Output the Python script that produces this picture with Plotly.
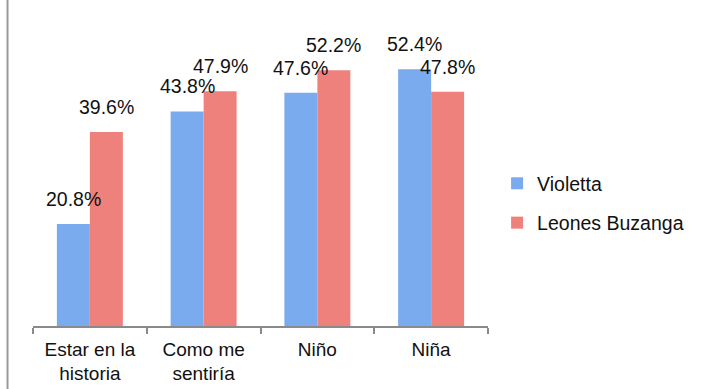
import plotly.graph_objects as go

categories = ["Estar en la<br>historia", "Como me<br>sentiría", "Niño", "Niña"]
violetta = [20.8, 43.8, 47.6, 52.4]
leones = [39.6, 47.9, 52.2, 47.8]
series_names = ["Violetta", "Leones Buzanga"]

FONT = "Liberation Sans, Arial, Helvetica, sans-serif"
colors = ["#79abee", "#ee817b"]

fig = go.Figure()
for i, (name, vals) in enumerate(zip(series_names, [violetta, leones])):
    fig.add_trace(go.Bar(
        x=categories, y=vals, name=name,
        marker=dict(color=colors[i], line=dict(width=0)),
        legendgroup=name,
    ))

# data labels
annotations = []
for i, vals in enumerate([violetta, leones]):
    shift = -16.5 if i == 0 else 16.5
    for c, v in zip(categories, vals):
        annotations.append(dict(
            x=c, y=v, xref="x", yref="y", text=f"{v:.1f}%",
            showarrow=False, xshift=shift, yshift=25,
            yanchor="middle", xanchor="center",
            font=dict(family=FONT, size=19.5, color="#111"),
        ))

fig.update_layout(
    width=704, height=389,
    margin=dict(l=33, r=216, t=32, b=63, autoexpand=False),
    paper_bgcolor="white", plot_bgcolor="white",
    barmode="group", bargap=0.42, bargroupgap=0,
    font=dict(family=FONT, size=18, color="#111"),
    showlegend=True,
    legend=dict(
        x=1.02, xanchor="left", y=0.418, yanchor="middle",
        traceorder="grouped", tracegroupgap=11,
        font=dict(family=FONT, size=19.5, color="#111"),
        itemwidth=30, bgcolor="rgba(0,0,0,0)",
    ),
    xaxis=dict(
        showline=True, linecolor="#8a8a8a", linewidth=1.5,
        ticks="outside", tickson="boundaries", ticklen=6,
        tickcolor="#8a8a8a", tickwidth=1.5,
        showgrid=False, zeroline=False, automargin=False,
        ticklabelstandoff=5,
        tickfont=dict(family=FONT, size=19, color="#111"),
    ),
    yaxis=dict(range=[0, 60], visible=False, showgrid=False, zeroline=False),
    annotations=annotations,
    shapes=[dict(
        type="line", xref="paper", yref="paper",
        x0=-0.056, x1=-0.056, y0=-0.3, y1=1.2,
        line=dict(color="#999999", width=2),
    )],
)

fig.write_html("out.html")
